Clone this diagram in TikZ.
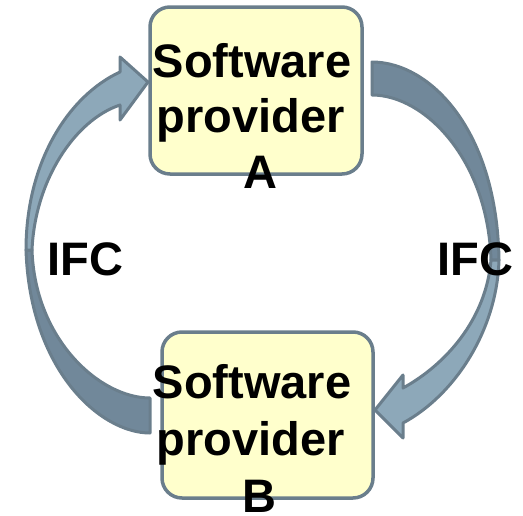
\documentclass[tikz,border=0pt]{standalone}
\usepackage{fontspec}
\setmainfont{Liberation Sans}
\definecolor{edgec}{HTML}{6A7E8C}
\definecolor{lightc}{HTML}{8DA8B9}
\definecolor{darkc}{HTML}{71889A}
\definecolor{boxc}{HTML}{FFFFCC}
\tikzset{
  provbox/.style={draw=edgec, fill=boxc, line width=3.5pt, rounded corners=20pt, inner sep=0pt},
  headpart/.style={draw=edgec, fill=lightc, line width=3pt, line join=round},
  tailpart/.style={draw=edgec, fill=darkc, line width=3pt, line join=round},
  lbl/.style={font=\fontsize{47}{56}\selectfont\bfseries, anchor=base, inner sep=0pt, text=black}
}
\begin{document}
\begin{tikzpicture}[x=1pt, y=-1pt]
\useasboundingbox (0,0) rectangle (523,515);
% left arrow: tail (dark) then head (light)
\path[tailpart] (26,250) .. controls (30,370) and (100,433) .. (150,433) -- (150,398) .. controls (100,398) and (35,340) .. (32,250) -- cycle;
\path[headpart] (26,250) .. controls (26,160) and (70,95) .. (120,72) -- (120,57) -- (148,82) -- (120,120) -- (120,105) .. controls (75,120) and (35,180) .. (32,250) -- cycle;
% right arrow
\path[tailpart] (372,62) .. controls (430,62) and (497,130) .. (499,260) -- (491,260) .. controls (488,160) and (425,95) .. (372,95) -- cycle;
\path[headpart] (499,260) .. controls (497,330) and (455,395) .. (403,423) -- (403,438) -- (375,410) -- (403,375) -- (403,388) .. controls (445,365) and (486,320) .. (491,260) -- cycle;
% boxes
\node[provbox, minimum width=212pt, minimum height=167pt] (A) at (256,90.5) {};
\node[provbox, minimum width=211pt, minimum height=166pt] (B) at (267.5,415) {};
% texts
\node[lbl] (a1) at (252,77) {Software};
\node[lbl] (a2) at (251,132) {provider};
\node[lbl] (a3) at (260,188) {A};
\node[lbl] (b1) at (252,398) {Software};
\node[lbl] (b2) at (251,455) {provider};
\node[lbl] (b3) at (259,512) {B};
\node[lbl] (ifcl) at (85.5,275) {IFC};
\node[lbl] (ifcr) at (475.5,275) {IFC};
\end{tikzpicture}
\end{document}
